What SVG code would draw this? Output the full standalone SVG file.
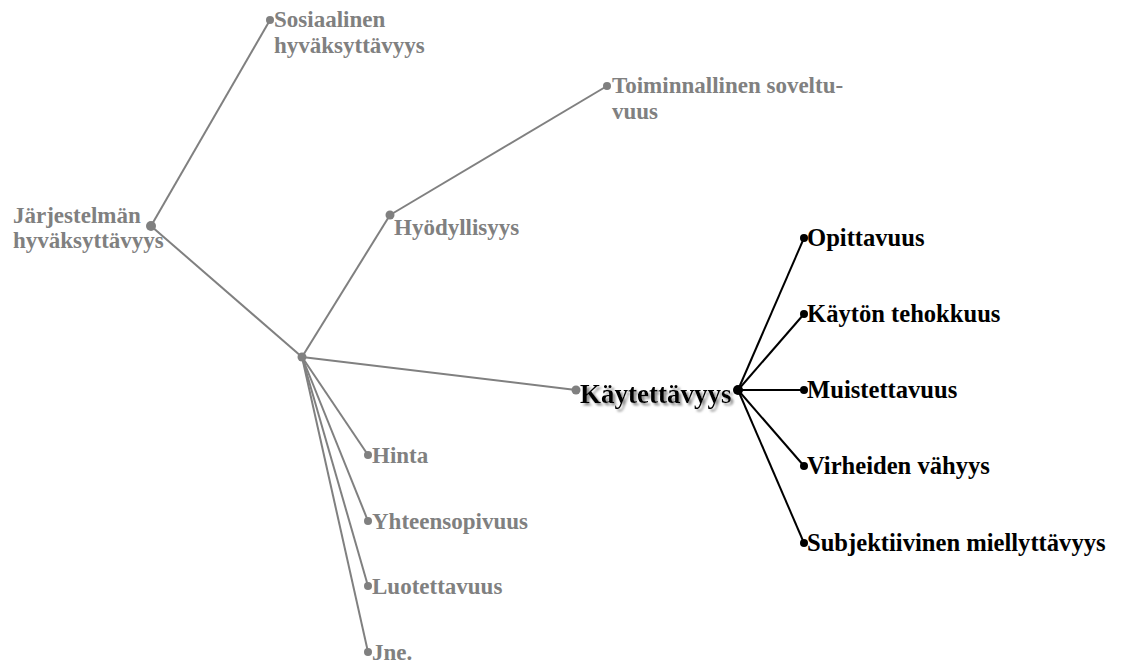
<svg xmlns="http://www.w3.org/2000/svg" width="1130" height="664" viewBox="0 0 1130 664">
  <style>
    text { font-family: "Liberation Serif", "Times New Roman", serif; font-weight: bold; font-size: 23px; }
    .g { fill: #808080; }
    .k { fill: #000000; }
    .kt { font-size: 24.6px; }
    .lg { stroke: #808080; stroke-width: 2; fill: none; }
    .lk { stroke: #000000; stroke-width: 2; fill: none; }
    .big { font-size: 27px; filter: url(#textShadow); }
  </style>
  <defs>
    <filter id="textShadow" x="-10%" y="-30%" width="120%" height="160%">
      <feDropShadow dx="2.5" dy="2.5" stdDeviation="0.8" flood-color="#8c8c8c" flood-opacity="1"/>
    </filter>
  </defs>
  <rect width="1130" height="664" fill="#ffffff"/>

  <!-- connectors -->
  <g id="connectors">
    <line class="lg" x1="151" y1="226" x2="270" y2="20"/>
    <line class="lg" x1="151" y1="226" x2="302" y2="357"/>
    <line class="lg" x1="302" y1="357" x2="390" y2="215"/>
    <line class="lg" x1="390" y1="215" x2="607" y2="86"/>
    <line class="lg" x1="302" y1="357" x2="576" y2="390"/>
    <line class="lg" x1="302" y1="357" x2="368" y2="455"/>
    <line class="lg" x1="302" y1="357" x2="368" y2="521"/>
    <line class="lg" x1="302" y1="357" x2="368" y2="586"/>
    <line class="lg" x1="302" y1="357" x2="368" y2="652"/>
    <line class="lk" x1="738" y1="390" x2="804" y2="238"/>
    <line class="lk" x1="738" y1="390" x2="804" y2="314"/>
    <line class="lk" x1="738" y1="390" x2="804" y2="390"/>
    <line class="lk" x1="738" y1="390" x2="804" y2="466"/>
    <line class="lk" x1="738" y1="390" x2="804" y2="543"/>
  </g>

  <g id="jarjestelman">
    <circle class="g" cx="151" cy="226" r="5"/>
    <text class="g" x="13" y="223">Järjestelmän</text>
    <text class="g" x="13" y="248">hyväksyttävyys</text>
  </g>
  <g id="sosiaalinen">
    <circle class="g" cx="270" cy="20" r="4"/>
    <text class="g" x="274" y="27">Sosiaalinen</text>
    <text class="g" x="274" y="53">hyväksyttävyys</text>
  </g>
  <g id="hub">
    <circle class="g" cx="302" cy="357" r="4.5"/>
  </g>
  <g id="hyodyllisyys">
    <circle class="g" cx="390" cy="215" r="4.5"/>
    <text class="g" x="394" y="235">Hyödyllisyys</text>
  </g>
  <g id="toiminnallinen">
    <circle class="g" cx="607" cy="86" r="4"/>
    <text class="g" x="612" y="93">Toiminnallinen soveltu-</text>
    <text class="g" x="612" y="119">vuus</text>
  </g>
  <g id="hinta">
    <circle class="g" cx="368" cy="455" r="4"/>
    <text class="g" x="372" y="463">Hinta</text>
  </g>
  <g id="yhteensopivuus">
    <circle class="g" cx="368" cy="521" r="4"/>
    <text class="g" x="372" y="529">Yhteensopivuus</text>
  </g>
  <g id="luotettavuus">
    <circle class="g" cx="368" cy="586" r="4"/>
    <text class="g" x="372" y="594">Luotettavuus</text>
  </g>
  <g id="jne">
    <circle class="g" cx="368" cy="652" r="4"/>
    <text class="g" x="372" y="660">Jne.</text>
  </g>

  <g id="kaytettavyys">
    <circle class="g" cx="576" cy="390" r="4.5"/>
    <text class="k big" x="580" y="403">Käytettävyys</text>
    <circle class="k" cx="738" cy="390" r="5"/>
  </g>

  <g id="opittavuus">
    <circle class="k" cx="804" cy="238" r="4"/>
    <text class="k kt" x="807" y="246">Opittavuus</text>
  </g>
  <g id="kayton-tehokkuus">
    <circle class="k" cx="804" cy="314" r="4"/>
    <text class="k kt" x="807" y="322">Käytön tehokkuus</text>
  </g>
  <g id="muistettavuus">
    <circle class="k" cx="804" cy="390" r="4"/>
    <text class="k kt" x="807" y="398">Muistettavuus</text>
  </g>
  <g id="virheiden-vahyys">
    <circle class="k" cx="804" cy="466" r="4"/>
    <text class="k kt" x="807" y="474">Virheiden vähyys</text>
  </g>
  <g id="subjektiivinen">
    <circle class="k" cx="804" cy="543" r="4"/>
    <text class="k kt" x="807" y="551">Subjektiivinen miellyttävyys</text>
  </g>
</svg>
